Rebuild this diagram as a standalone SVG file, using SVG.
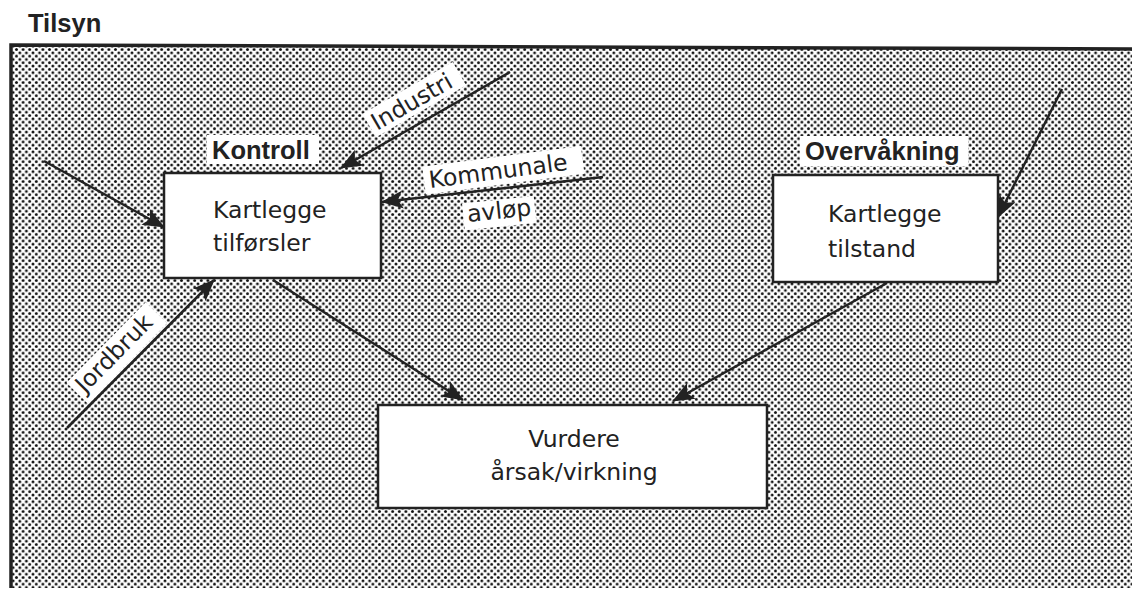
<svg xmlns="http://www.w3.org/2000/svg" width="1132" height="590" viewBox="0 0 1132 590">
<style>
.title{font-family:"Liberation Sans",Arial,sans-serif;font-weight:bold;font-size:25.5px;fill:#222}
.txt{font-family:"DejaVu Sans",sans-serif;font-size:23.5px;fill:#222}
.box{fill:#fff;stroke:#222;stroke-width:2.5}
.bg{fill:#fff}
.conn{stroke:#222;stroke-width:2.5;fill:none;marker-end:url(#ah)}
</style>
<defs>
<pattern id="dots" width="6.6" height="6.6" patternUnits="userSpaceOnUse">
<rect width="6.6" height="6.6" fill="#fff"/>
<circle cx="0" cy="0" r="1.45" fill="#111"/>
<circle cx="6.6" cy="0" r="1.45" fill="#111"/>
<circle cx="0" cy="6.6" r="1.45" fill="#111"/>
<circle cx="6.6" cy="6.6" r="1.45" fill="#111"/>
<circle cx="3.3" cy="3.3" r="1.45" fill="#111"/>
</pattern>
<marker id="ah" markerWidth="22" markerHeight="18" refX="21" refY="9" orient="auto" markerUnits="userSpaceOnUse">
<path d="M0,0 L22,9 L0,18 L5,9 z" fill="#222"/>
</marker>
</defs>
<rect width="1132" height="590" fill="#fff"/>
<text class="title" x="28" y="32">Tilsyn</text>
<g id="frame">
<polygon points="11,45 1140,49 1140,588 11,588" fill="url(#dots)"/>
<polyline points="11,588 11,45 1140,49" fill="none" stroke="#222" stroke-width="3.5"/>
</g>
<g id="connectors">
<line class="conn" x1="44" y1="161" x2="164" y2="227"/>
<line class="conn" x1="67" y1="428" x2="214" y2="280"/>
<line class="conn" x1="510" y1="72" x2="341" y2="168"/>
<line class="conn" x1="603" y1="177" x2="382" y2="202"/>
<line class="conn" x1="1062" y1="89" x2="998" y2="217"/>
<line class="conn" x1="273" y1="280" x2="463" y2="400"/>
<line class="conn" x1="887" y1="283" x2="673" y2="401"/>
</g>
<g id="label-industri" transform="translate(377,131) rotate(-30)">
<rect class="bg" x="-4" y="-22" width="104" height="27"/>
<text class="txt" x="0" y="0">Industri</text>
</g>
<g id="label-kommunale" transform="translate(430,188) rotate(-7.5)">
<rect class="bg" x="-5" y="-22" width="160" height="28"/>
<text class="txt" x="0" y="0">Kommunale</text>
</g>
<g id="label-avlop" transform="translate(468,222) rotate(-6)">
<rect class="bg" x="-4" y="-19" width="72" height="27"/>
<text class="txt" x="0" y="0">avløp</text>
</g>
<g id="label-jordbruk" transform="translate(85,394) rotate(-45.5)">
<rect class="bg" x="-5" y="-21" width="113" height="30"/>
<text class="txt" x="0" y="0">Jordbruk</text>
</g>
<g id="kontroll">
<rect class="bg" x="207" y="135" width="112" height="29"/>
<text class="title" x="212" y="159">Kontroll</text>
</g>
<g id="overvakning">
<rect class="bg" x="800" y="136" width="168" height="30"/>
<text class="title" x="805" y="160">Overvåkning</text>
</g>
<g id="node-tilforsler">
<rect class="box" x="164" y="173" width="217" height="105"/>
<text class="txt" x="213" y="218">Kartlegge</text>
<text class="txt" x="213" y="251">tilførsler</text>
</g>
<g id="node-tilstand">
<rect class="box" x="773" y="175" width="225" height="107"/>
<text class="txt" x="828" y="222">Kartlegge</text>
<text class="txt" x="828" y="257">tilstand</text>
</g>
<g id="node-vurdere">
<rect class="box" x="378" y="405" width="389" height="103"/>
<text class="txt" x="574" y="447" text-anchor="middle">Vurdere</text>
<text class="txt" x="574" y="480" text-anchor="middle">årsak/virkning</text>
</g>
</svg>
